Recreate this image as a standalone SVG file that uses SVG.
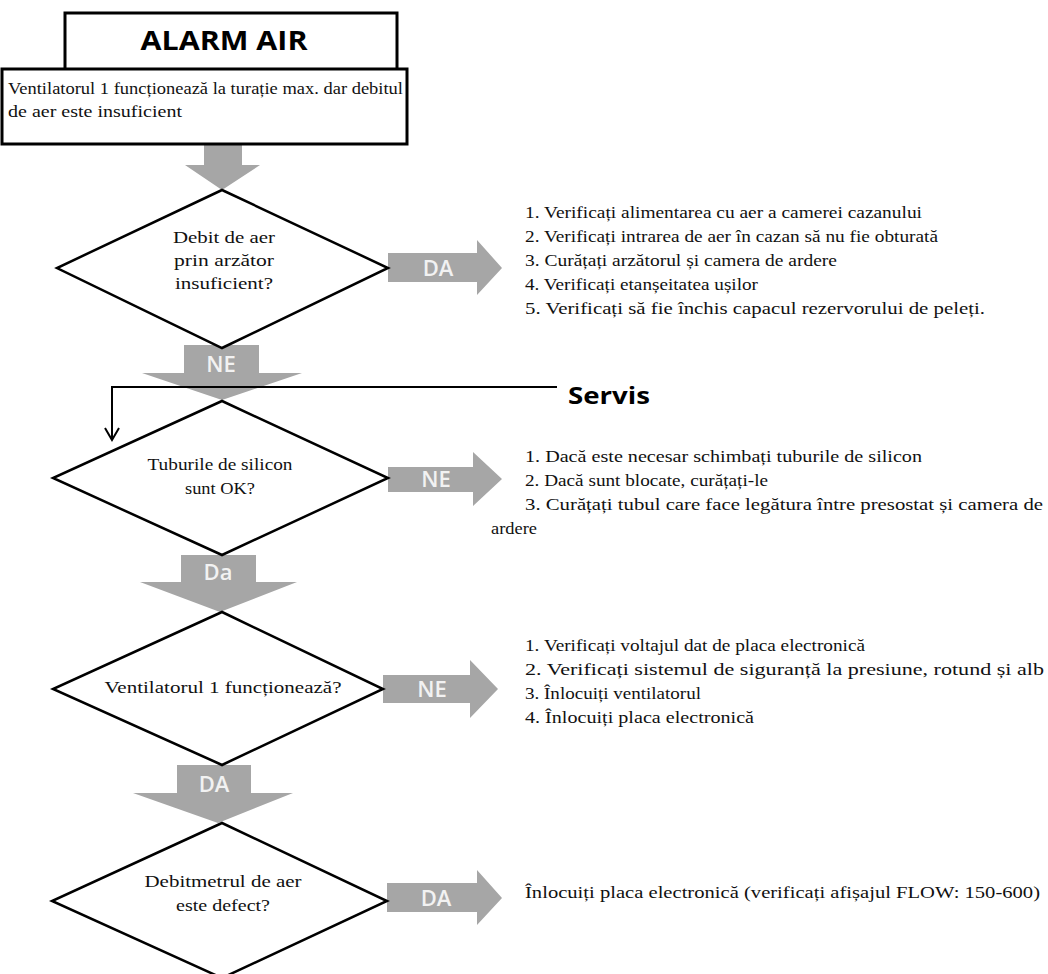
<svg xmlns="http://www.w3.org/2000/svg" width="1048" height="974" viewBox="0 0 1048 974">
<style>
.box{fill:#fff;stroke:#000;stroke-width:3}
.dia{fill:#fff;stroke:#000;stroke-width:2.5;stroke-linejoin:miter}
.garrow{fill:#a6a6a6}
.alab{font-family:"Open Sans","Liberation Sans",sans-serif;font-weight:600;font-size:22px;fill:#f2f2f2;text-anchor:middle}
.t{font-family:"Liberation Serif","Times New Roman",serif;font-size:16.5px;fill:#111}
.c{text-anchor:middle}
.title{font-family:"Open Sans","Liberation Sans",sans-serif;font-weight:bold;font-size:27px;fill:#000;text-anchor:middle}
.link{fill:none;stroke:#000;stroke-width:2}
</style>
<rect width="1048" height="974" fill="#fff"/>
<g id="connectors">
  <polygon class="garrow" points="204,140 242,140 242,165 260,165 222,190 185,165 204,165"/>
  <polygon class="garrow" points="184,345 259,345 259,373 302,373 222,400 142,373 184,373"/>
  <text class="alab" x="221" y="372">NE</text>
  <polygon class="garrow" points="181,555 256,555 256,582 297,582 220,612 140,582 181,582"/>
  <text class="alab" x="218" y="580">Da</text>
  <polygon class="garrow" points="177,765 251,765 251,793 293,793 218,823 133,793 177,793"/>
  <text class="alab" x="214" y="792">DA</text>
  <polygon class="garrow" points="388,253 477,253 477,240 502,268 477,295 477,282 388,282"/>
  <text class="alab" x="438" y="276">DA</text>
  <polygon class="garrow" points="388,467 473,467 473,452 502,479 473,506 473,492 388,492"/>
  <text class="alab" x="436" y="487">NE</text>
  <polygon class="garrow" points="383,675 470,675 470,660 498,689 470,718 470,703 383,703"/>
  <text class="alab" x="432" y="697">NE</text>
  <polygon class="garrow" points="387,883 477,883 477,870 502,898 477,925 477,912 387,912"/>
  <text class="alab" x="436" y="906">DA</text>
  <path class="link" d="M557 387 H112 V439"/>
  <polyline class="link" points="105,428 112,440 119,428"/>
  <text x="568" y="404" textLength="82" lengthAdjust="spacingAndGlyphs" style="font-family:'Open Sans','Liberation Sans',sans-serif;font-weight:bold;font-size:24px;fill:#000">Servis</text>
</g>
<g id="header">
  <rect class="box" x="65" y="13" width="332" height="60"/>
  <text class="title" x="224" y="50" textLength="167" lengthAdjust="spacingAndGlyphs">ALARM AIR</text>
  <rect class="box" x="2" y="69" width="405" height="75"/>
  <text class="t" x="8" y="94" textLength="395" lengthAdjust="spacingAndGlyphs">Ventilatorul 1 funcționează la turație max. dar debitul</text>
  <text class="t" x="8" y="117" textLength="174" lengthAdjust="spacingAndGlyphs">de aer este insuficient</text>
</g>
<g id="decision1">
  <polygon class="dia" points="222,190 388,268 222,348 57,268"/>
  <text class="t c" x="224" y="243" textLength="102" lengthAdjust="spacingAndGlyphs">Debit de aer</text>
  <text class="t c" x="224" y="266" textLength="100" lengthAdjust="spacingAndGlyphs">prin arzător</text>
  <text class="t c" x="224" y="289" textLength="98" lengthAdjust="spacingAndGlyphs">insuficient?</text>
</g>
<g id="actions1">
  <text class="t" x="525" y="218" textLength="397" lengthAdjust="spacingAndGlyphs">1. Verificați alimentarea cu aer a camerei cazanului</text>
  <text class="t" x="525" y="242" textLength="413" lengthAdjust="spacingAndGlyphs">2. Verificați intrarea de aer în cazan să nu fie obturată</text>
  <text class="t" x="525" y="266" textLength="312" lengthAdjust="spacingAndGlyphs">3. Curățați arzătorul și camera de ardere</text>
  <text class="t" x="525" y="290" textLength="233" lengthAdjust="spacingAndGlyphs">4. Verificați etanșeitatea ușilor</text>
  <text class="t" x="525" y="314" textLength="460" lengthAdjust="spacingAndGlyphs">5. Verificați să fie închis capacul rezervorului de peleți.</text>
</g>
<g id="decision2">
  <polygon class="dia" points="222,401 388,478 222,555 53,478"/>
  <text class="t c" x="220" y="470" textLength="145" lengthAdjust="spacingAndGlyphs">Tuburile de silicon</text>
  <text class="t c" x="220" y="494" textLength="70" lengthAdjust="spacingAndGlyphs">sunt OK?</text>
</g>
<g id="actions2">
  <text class="t" x="525" y="462" textLength="397" lengthAdjust="spacingAndGlyphs">1. Dacă este necesar schimbați tuburile de silicon</text>
  <text class="t" x="525" y="486" textLength="243" lengthAdjust="spacingAndGlyphs">2. Dacă sunt blocate, curățați-le</text>
  <text class="t" x="525" y="510" textLength="518" lengthAdjust="spacingAndGlyphs">3. Curățați tubul care face legătura între presostat și camera de</text>
  <text class="t" x="491" y="534" textLength="46" lengthAdjust="spacingAndGlyphs">ardere</text>
</g>
<g id="decision3">
  <polygon class="dia" points="222,612 383,689 222,765 53,689"/>
  <text class="t c" x="223" y="693" textLength="237" lengthAdjust="spacingAndGlyphs">Ventilatorul 1 funcționează?</text>
</g>
<g id="actions3">
  <text class="t" x="525" y="651" textLength="340" lengthAdjust="spacingAndGlyphs">1. Verificați voltajul dat de placa electronică</text>
  <text class="t" x="525" y="675" textLength="519" lengthAdjust="spacingAndGlyphs">2. Verificați sistemul de siguranță la presiune, rotund și alb</text>
  <text class="t" x="525" y="699" textLength="176" lengthAdjust="spacingAndGlyphs">3. Înlocuiți ventilatorul</text>
  <text class="t" x="525" y="723" textLength="229" lengthAdjust="spacingAndGlyphs">4. Înlocuiți placa electronică</text>
</g>
<g id="decision4">
  <polygon class="dia" points="222,823 387,901 222,978 52,901"/>
  <text class="t c" x="223" y="887" textLength="157" lengthAdjust="spacingAndGlyphs">Debitmetrul de aer</text>
  <text class="t c" x="223" y="911" textLength="94" lengthAdjust="spacingAndGlyphs">este defect?</text>
</g>
<g id="action4">
  <text class="t" x="525" y="898" textLength="515" lengthAdjust="spacingAndGlyphs">Înlocuiți placa electronică (verificați afișajul FLOW: 150-600)</text>
</g>
</svg>
